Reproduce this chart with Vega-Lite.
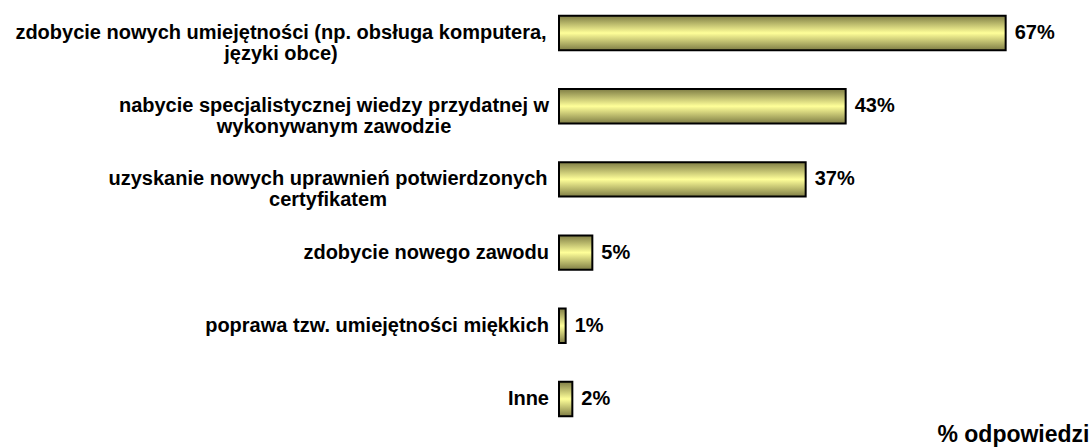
{
  "$schema": "https://vega.github.io/schema/vega-lite/v6.json",
  "autosize": {"type": "none"},
  "padding": {"left": 559, "top": 5, "right": 32, "bottom": 21},
  "width": 500,
  "height": 422,
  "background": "white",
  "config": {"view": {"stroke": null}, "font": "Liberation Sans"},
  "data": {"values": [
    {"label": "zdobycie nowych umiejętności (np. obsługa komputera,|języki obce)", "value": 67},
    {"label": "nabycie specjalistycznej wiedzy przydatnej w|wykonywanym zawodzie", "value": 43},
    {"label": "uzyskanie nowych uprawnień potwierdzonych|certyfikatem", "value": 37},
    {"label": "zdobycie nowego zawodu", "value": 5},
    {"label": "poprawa tzw. umiejętności miękkich", "value": 1},
    {"label": "Inne", "value": 2}
  ]},
  "encoding": {
    "y": {"field": "label", "type": "nominal", "sort": null,
      "scale": {"paddingInner": 0.53, "paddingOuter": 0.148},
      "axis": null}
  },
  "layer": [
    {"mark": {"type": "bar", "stroke": "black", "strokeWidth": 2,
      "fill": {"gradient": "linear", "x1": 0, "y1": 0, "x2": 0, "y2": 1,
        "stops": [{"offset": 0, "color": "#7f7d45"}, {"offset": 0.5, "color": "#ffff99"}, {"offset": 1, "color": "#7f7d45"}]}},
      "encoding": {"x": {"field": "value", "type": "quantitative", "scale": {"domain": [0, 75], "nice": false, "zero": true}, "title": "% odpowiedzi",
        "axis": {"labels": false, "ticks": false, "domain": false, "grid": false,
          "titleFontSize": 23, "titleFontWeight": "bold", "titleColor": "black",
          "titleAlign": "right", "titleAnchor": "end", "titleX": 530, "titleY": 14, "titleBaseline": "alphabetic"}}}},
    {"mark": {"type": "text", "align": "left", "dx": 9, "fontSize": 20, "fontWeight": "bold", "color": "black",
      "text": {"expr": "datum.value + '%'"}},
      "encoding": {"x": {"field": "value", "type": "quantitative", "scale": {"domain": [0, 75], "nice": false}, "title": "% odpowiedzi"}}},
    {"transform": [{"filter": {"field": "label", "oneOf": ["zdobycie nowego zawodu", "poprawa tzw. umiejętności miękkich", "Inne"]}}],
      "mark": {"type": "text", "fontSize": 20, "fontWeight": "bold", "color": "black", "baseline": "middle", "align": "right", "dx": -10},
      "encoding": {"text": {"field": "label"}, "x": {"datum": 0, "type": "quantitative", "scale": {"domain": [0, 75], "nice": false}, "title": "% odpowiedzi"}}},
    {"transform": [{"filter": {"field": "label", "equal": "zdobycie nowych umiejętności (np. obsługa komputera,|języki obce)"}}],
      "mark": {"type": "text", "fontSize": 20, "fontWeight": "bold", "color": "black", "baseline": "middle", "lineHeight": 21, "align": "center", "dx": -278,
        "text": {"expr": "split(datum.label, '|')"}},
      "encoding": {"x": {"datum": 0, "type": "quantitative", "scale": {"domain": [0, 75], "nice": false}, "title": "% odpowiedzi"}}},
    {"transform": [{"filter": {"field": "label", "equal": "nabycie specjalistycznej wiedzy przydatnej w|wykonywanym zawodzie"}}],
      "mark": {"type": "text", "fontSize": 20, "fontWeight": "bold", "color": "black", "baseline": "middle", "lineHeight": 21, "align": "center", "dx": -225,
        "text": {"expr": "split(datum.label, '|')"}},
      "encoding": {"x": {"datum": 0, "type": "quantitative", "scale": {"domain": [0, 75], "nice": false}, "title": "% odpowiedzi"}}},
    {"transform": [{"filter": {"field": "label", "equal": "uzyskanie nowych uprawnień potwierdzonych|certyfikatem"}}],
      "mark": {"type": "text", "fontSize": 20, "fontWeight": "bold", "color": "black", "baseline": "middle", "lineHeight": 21, "align": "center", "dx": -231,
        "text": {"expr": "split(datum.label, '|')"}},
      "encoding": {"x": {"datum": 0, "type": "quantitative", "scale": {"domain": [0, 75], "nice": false}, "title": "% odpowiedzi"}}}
  ]
}
